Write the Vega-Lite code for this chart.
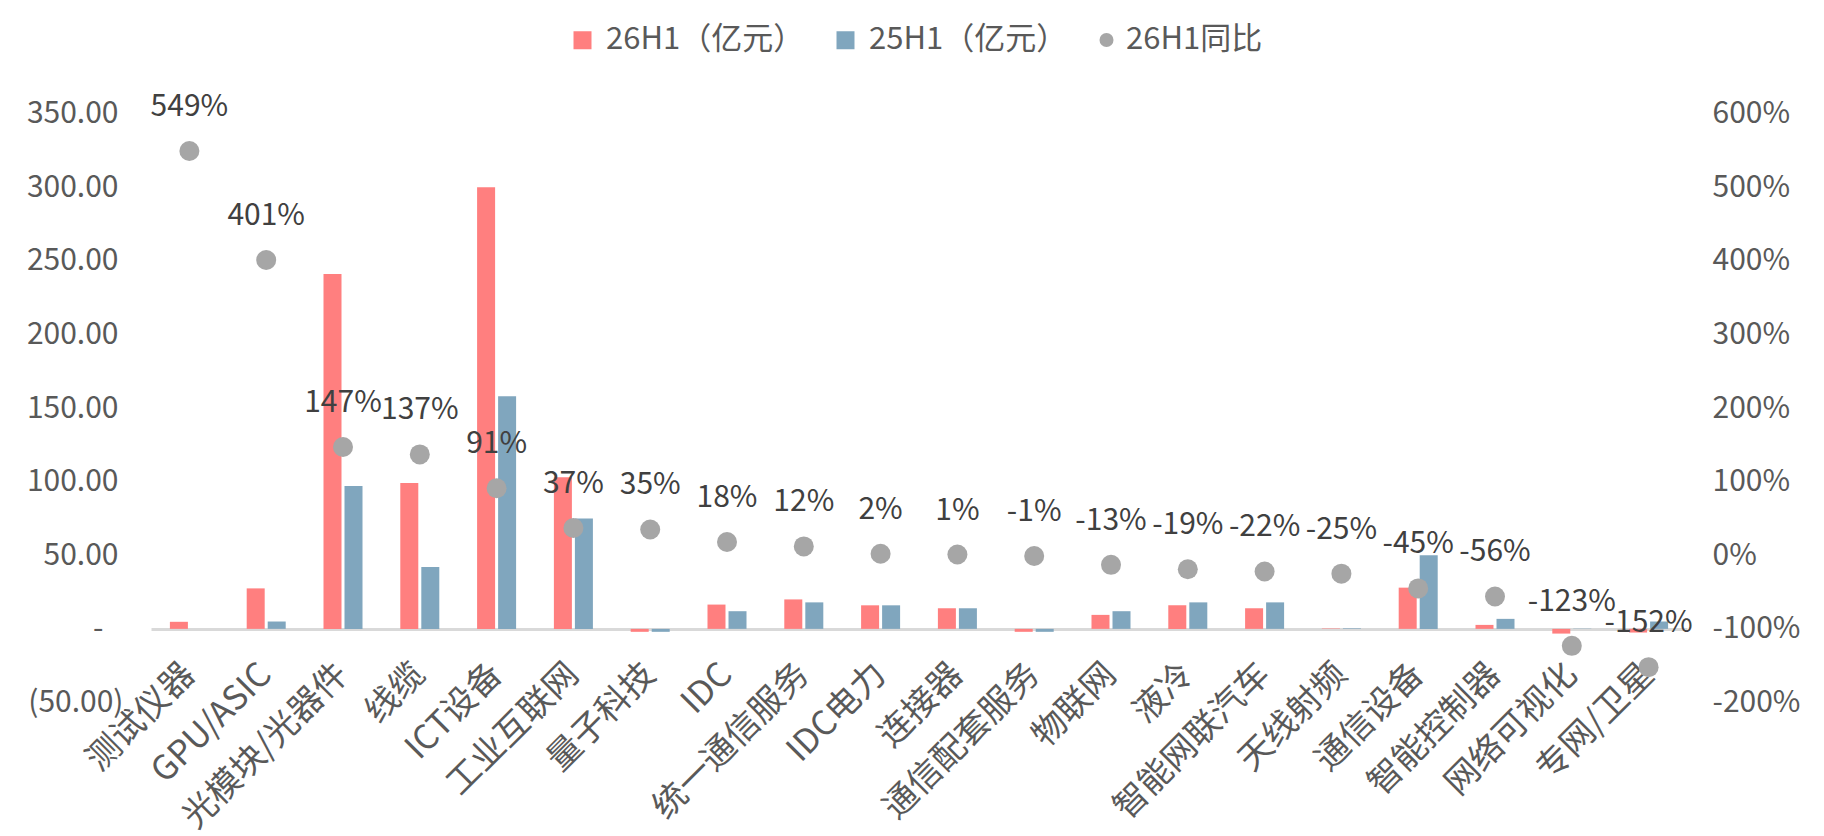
{
  "$schema": "https://vega.github.io/schema/vega-lite/v6.json",
  "width": 1536,
  "height": 589,
  "autosize": "none",
  "padding": {"left": 151, "top": 113.5, "right": 137, "bottom": 133.5},
  "background": "white",
  "config": {
    "view": {"stroke": null},
    "font": "Noto Sans CJK SC",
    "axis": {"labelFont": "Noto Sans CJK SC", "grid": false, "ticks": false, "tickSize": 0}
  },
  "datasets": {
    "bars": [
      {"cat": "测试仪器", "series": "26H1（亿元）", "value": 4.8},
      {"cat": "测试仪器", "series": "25H1（亿元）", "value": 0},
      {"cat": "GPU/ASIC", "series": "26H1（亿元）", "value": 27.5},
      {"cat": "GPU/ASIC", "series": "25H1（亿元）", "value": 5},
      {"cat": "光模块/光器件", "series": "26H1（亿元）", "value": 241},
      {"cat": "光模块/光器件", "series": "25H1（亿元）", "value": 97},
      {"cat": "线缆", "series": "26H1（亿元）", "value": 99},
      {"cat": "线缆", "series": "25H1（亿元）", "value": 42},
      {"cat": "ICT设备", "series": "26H1（亿元）", "value": 300},
      {"cat": "ICT设备", "series": "25H1（亿元）", "value": 158},
      {"cat": "工业互联网", "series": "26H1（亿元）", "value": 103},
      {"cat": "工业互联网", "series": "25H1（亿元）", "value": 75},
      {"cat": "量子科技", "series": "26H1（亿元）", "value": -2},
      {"cat": "量子科技", "series": "25H1（亿元）", "value": -2},
      {"cat": "IDC", "series": "26H1（亿元）", "value": 16.5},
      {"cat": "IDC", "series": "25H1（亿元）", "value": 12},
      {"cat": "统一通信服务", "series": "26H1（亿元）", "value": 20},
      {"cat": "统一通信服务", "series": "25H1（亿元）", "value": 18},
      {"cat": "IDC电力", "series": "26H1（亿元）", "value": 16},
      {"cat": "IDC电力", "series": "25H1（亿元）", "value": 16},
      {"cat": "连接器", "series": "26H1（亿元）", "value": 14},
      {"cat": "连接器", "series": "25H1（亿元）", "value": 14},
      {"cat": "通信配套服务", "series": "26H1（亿元）", "value": -2},
      {"cat": "通信配套服务", "series": "25H1（亿元）", "value": -2},
      {"cat": "物联网", "series": "26H1（亿元）", "value": 9.5},
      {"cat": "物联网", "series": "25H1（亿元）", "value": 12},
      {"cat": "液冷", "series": "26H1（亿元）", "value": 16},
      {"cat": "液冷", "series": "25H1（亿元）", "value": 18},
      {"cat": "智能网联汽车", "series": "26H1（亿元）", "value": 14},
      {"cat": "智能网联汽车", "series": "25H1（亿元）", "value": 18},
      {"cat": "天线射频", "series": "26H1（亿元）", "value": 0.3},
      {"cat": "天线射频", "series": "25H1（亿元）", "value": 0.4},
      {"cat": "通信设备", "series": "26H1（亿元）", "value": 28},
      {"cat": "通信设备", "series": "25H1（亿元）", "value": 50},
      {"cat": "智能控制器", "series": "26H1（亿元）", "value": 2.7},
      {"cat": "智能控制器", "series": "25H1（亿元）", "value": 6.8},
      {"cat": "网络可视化", "series": "26H1（亿元）", "value": -3.2},
      {"cat": "网络可视化", "series": "25H1（亿元）", "value": 0.2},
      {"cat": "专网/卫星", "series": "26H1（亿元）", "value": -2.5},
      {"cat": "专网/卫星", "series": "25H1（亿元）", "value": 5}
    ],
    "yoy": [
      {"cat": "测试仪器", "yoy": 549},
      {"cat": "GPU/ASIC", "yoy": 401},
      {"cat": "光模块/光器件", "yoy": 147},
      {"cat": "线缆", "yoy": 137},
      {"cat": "ICT设备", "yoy": 91},
      {"cat": "工业互联网", "yoy": 37},
      {"cat": "量子科技", "yoy": 35},
      {"cat": "IDC", "yoy": 18},
      {"cat": "统一通信服务", "yoy": 12},
      {"cat": "IDC电力", "yoy": 2},
      {"cat": "连接器", "yoy": 1},
      {"cat": "通信配套服务", "yoy": -1},
      {"cat": "物联网", "yoy": -13},
      {"cat": "液冷", "yoy": -19},
      {"cat": "智能网联汽车", "yoy": -22},
      {"cat": "天线射频", "yoy": -25},
      {"cat": "通信设备", "yoy": -45},
      {"cat": "智能控制器", "yoy": -56},
      {"cat": "网络可视化", "yoy": -123},
      {"cat": "专网/卫星", "yoy": -152}
    ]
  },
  "layer": [
    {
      "data": {"name": "bars"},
      "mark": {"type": "bar"},
      "encoding": {
        "x": {
          "field": "cat",
          "type": "nominal",
          "sort": null,
          "scale": {"paddingInner": 0.492, "paddingOuter": 0.246},
          "axis": {
            "orient": "bottom",
            "offset": -73.5,
            "title": null,
            "domain": true,
            "domainColor": "#D9D9D9",
            "domainWidth": 3,
            "labelAngle": -45,
            "labelAlign": "right",
            "labelBaseline": "middle",
            "labelPadding": 40,
            "labelFontSize": 34,
            "labelColor": "#595959",
            "labelOverlap": false,
            "labelLimit": 0
          }
        },
        "xOffset": {
          "field": "series",
          "type": "nominal",
          "sort": ["26H1（亿元）", "25H1（亿元）"],
          "scale": {"paddingInner": 0.143, "paddingOuter": 0}
        },
        "y": {
          "field": "value",
          "type": "quantitative",
          "scale": {"domain": [-50, 350], "nice": false},
          "axis": {
            "orient": "left",
            "title": null,
            "domain": false,
            "values": [-50, 0, 50, 100, 150, 200, 250, 300, 350],
            "labelExpr": "datum.value == 0 ? '-' : datum.value < 0 ? '(' + format(-datum.value, '.2f') + ')' : format(datum.value, '.2f')",
            "labelPadding": {
              "condition": [
                {"test": "datum.value == 0", "value": 48},
                {"test": "datum.value < 0", "value": 28}
              ],
              "value": 33
            },
            "labelFontSize": 30,
            "labelColor": "#595959"
          }
        },
        "color": {
          "field": "series",
          "type": "nominal",
          "sort": ["26H1（亿元）", "25H1（亿元）"],
          "scale": {"domain": ["26H1（亿元）", "25H1（亿元）"], "range": ["#FF7F7F", "#80A6BE"]},
          "legend": {
            "orient": "none",
            "legendX": 416,
            "legendY": -89,
            "direction": "horizontal",
            "title": null,
            "padding": 0,
            "symbolType": "square",
            "symbolSize": 324,
            "symbolStrokeWidth": 0,
            "labelOffset": 8,
            "columnPadding": 25,
            "labelFontSize": 31,
            "labelColor": "#595959",
            "labelFont": "Noto Sans CJK SC",
            "labelLimit": 0
          }
        }
      }
    },
    {
      "data": {"name": "yoy"},
      "transform": [{"calculate": "datum.yoy + '%'", "as": "label"}],
      "layer": [
        {
          "mark": {"type": "point", "filled": true, "size": 400, "color": "#A6A6A6", "opacity": 1, "strokeWidth": 0},
          "encoding": {
            "x": {"field": "cat", "type": "nominal", "sort": null},
            "y": {
              "field": "yoy",
              "type": "quantitative",
              "scale": {"domain": [-200, 600], "nice": false},
              "axis": {
                "orient": "right",
                "title": null,
                "domain": false,
                "values": [-200, -100, 0, 100, 200, 300, 400, 500, 600],
                "labelExpr": "datum.value + '%'",
                "labelPadding": 25,
                "labelFontSize": 30,
                "labelColor": "#595959"
              }
            },
            "shape": {
              "datum": "26H1同比",
              "scale": {"domain": ["26H1同比"], "range": ["circle"]},
              "legend": {
                "orient": "none",
                "legendX": 940,
                "legendY": -89,
                "direction": "horizontal",
                "title": null,
                "padding": 0,
                "symbolSize": 196,
                "symbolFillColor": "#A6A6A6",
                "symbolStrokeWidth": 0,
                "labelOffset": 4,
                "labelFontSize": 31,
                "labelColor": "#595959",
                "labelFont": "Noto Sans CJK SC",
                "labelLimit": 0
              }
            }
          }
        },
        {
          "mark": {"type": "text", "dy": -44, "fontSize": 30, "color": "#404040", "baseline": "middle", "align": "center", "font": "Noto Sans CJK SC"},
          "encoding": {
            "x": {"field": "cat", "type": "nominal", "sort": null},
            "y": {"field": "yoy", "type": "quantitative"},
            "text": {"field": "label"}
          }
        }
      ]
    }
  ],
  "resolve": {"scale": {"y": "independent", "shape": "independent", "color": "independent"}}
}
